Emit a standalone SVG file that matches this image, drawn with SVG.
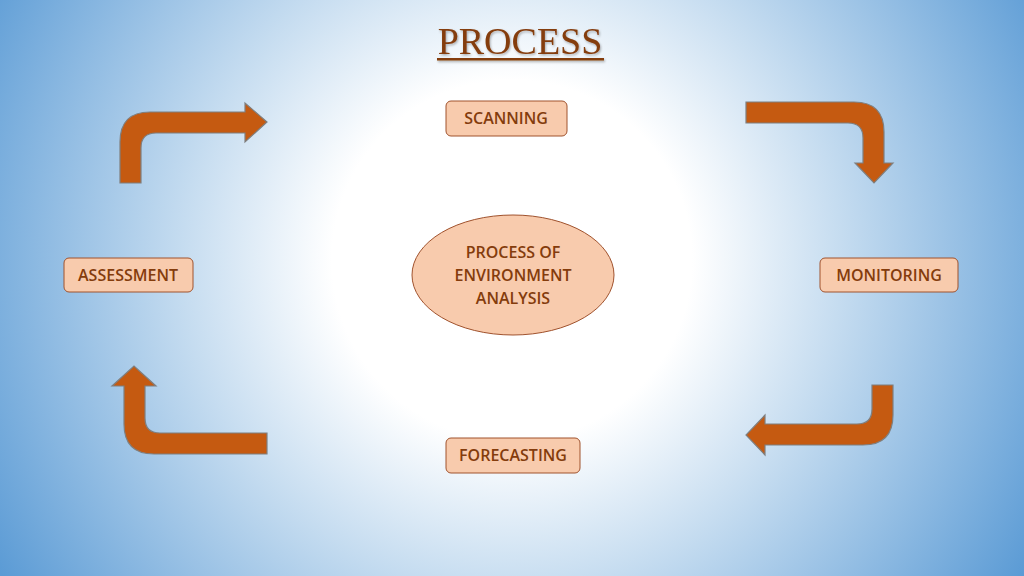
<svg xmlns="http://www.w3.org/2000/svg" width="1024" height="576" viewBox="0 0 1024 576">
<defs>
<radialGradient id="bg" cx="512" cy="260" r="600" gradientUnits="userSpaceOnUse">
<stop offset="0.3" stop-color="#ffffff"/>
<stop offset="0.55" stop-color="#c5dcf0"/>
<stop offset="1" stop-color="#5b9bd5"/>
</radialGradient>
<filter id="sh"><feDropShadow dx="1" dy="1.5" stdDeviation="1" flood-color="#000" flood-opacity="0.3"/></filter>
</defs>
<style>
.box{fill:#f8cbad;stroke:#a0522d;stroke-width:1}
.t{font-family:"Open Sans","Liberation Sans",sans-serif;font-size:16px;fill:#843c0c;text-anchor:middle;font-weight:600}
.arr{fill:#c55a11;stroke:#7f7f7f;stroke-width:1.2}
</style>
<rect width="1024" height="576" fill="url(#bg)"/>
<g id="title" filter="url(#sh)">
<text x="520" y="54" font-family="Liberation Serif,serif" font-size="38" fill="#843c0c" text-anchor="middle">PROCESS</text>
<rect x="437" y="58" width="167" height="2.5" fill="#843c0c"/>
</g>
<g id="scanning"><rect class="box" x="446" y="101" width="121" height="35" rx="5"/><text class="t" x="506" y="124">SCANNING</text></g>
<g id="center"><ellipse class="box" cx="513" cy="275" rx="101" ry="60"/><text class="t" x="513" y="258">PROCESS OF</text><text class="t" x="513" y="281">ENVIRONMENT</text><text class="t" x="513" y="304">ANALYSIS</text></g>
<g id="assessment"><rect class="box" x="64" y="258" width="129" height="34" rx="5"/><text class="t" x="128" y="281">ASSESSMENT</text></g>
<g id="monitoring"><rect class="box" x="820" y="258" width="138" height="34" rx="5"/><text class="t" x="889" y="281">MONITORING</text></g>
<g id="forecasting"><rect class="box" x="446" y="438" width="134" height="35" rx="5"/><text class="t" x="513" y="461">FORECASTING</text></g>
<g id="connectors">
<path class="arr" d="M120,183 L120,142 Q120,112 150,112 L245,112 L245,103 L267,122 L245,142 L245,133 L156,133 Q141,133 141,148 L141,183 Z"/>
<path class="arr" d="M746,102 L854,102 Q884,102 884,132 L884,163 L893,163 L874,183 L855,163 L863,163 L863,138 Q863,123 848,123 L746,123 Z"/>
<path class="arr" d="M893,385 L893,415 Q893,445 863,445 L765,445 L765,455 L746,435 L765,415 L765,424 L857,424 Q872,424 872,409 L872,385 Z"/>
<path class="arr" d="M267,454 L154,454 Q124,454 124,424 L124,386 L112,386 L134,366 L156,386 L145,386 L145,418 Q145,433 160,433 L267,433 Z"/>
</g>
</svg>
